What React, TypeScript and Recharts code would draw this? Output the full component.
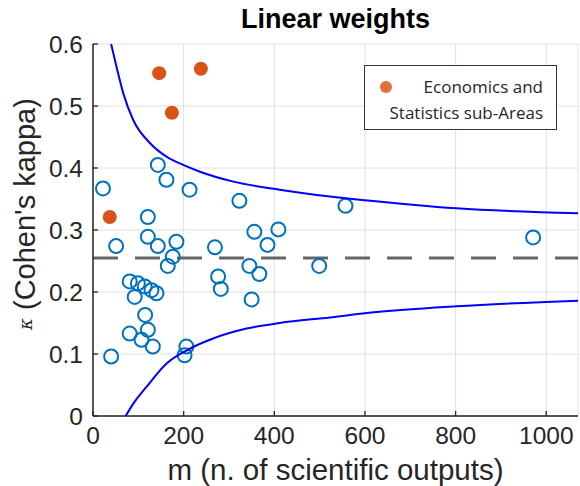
import {
  ScatterChart,
  Scatter,
  XAxis,
  YAxis,
  CartesianGrid,
  ReferenceLine,
} from "recharts";

// field sub-areas (open blue circles)
const fieldM = [22, 51, 40, 143, 162, 213, 121, 121, 143, 184, 176, 165, 81, 99, 114, 129, 140, 92, 115, 81, 121, 107, 132, 206, 202, 323, 557, 356, 409, 385, 269, 345, 367, 276, 282, 350, 499, 971];
const fieldKappa = [0.367, 0.274, 0.096, 0.405, 0.381, 0.365, 0.321, 0.289, 0.274, 0.281, 0.257, 0.242, 0.217, 0.214, 0.209, 0.203, 0.198, 0.192, 0.163, 0.133, 0.139, 0.123, 0.112, 0.112, 0.098, 0.347, 0.339, 0.297, 0.301, 0.276, 0.272, 0.242, 0.229, 0.225, 0.205, 0.188, 0.242, 0.288];

// Economics and Statistics sub-areas (filled orange)
const econM = [37, 146, 238, 174];
const econKappa = [0.321, 0.553, 0.56, 0.489];

// confidence bounds
const upperM = [40, 52, 67, 89, 126, 163, 199, 236, 310, 412, 523, 600, 802, 1070];
const upperKappa = [0.6, 0.563, 0.52, 0.477, 0.44, 0.418, 0.405, 0.394, 0.378, 0.365, 0.354, 0.348, 0.335, 0.327];
const lowerM = [72, 89, 118, 163, 207, 265, 339, 412, 523, 604, 802, 1070];
const lowerKappa = [0, 0.02, 0.047, 0.085, 0.106, 0.125, 0.141, 0.15, 0.159, 0.166, 0.177, 0.186];

const meanKappa = 0.255;

const xTicks = [0, 200, 400, 600, 800, 1000];
const yTicks = [0, 0.1, 0.2, 0.3, 0.4, 0.5, 0.6];

const zip = (ms: number[], ks: number[]) => ms.map((m, i) => ({ m, k: ks[i] }));
const fieldData = zip(fieldM, fieldKappa);
const econData = zip(econM, econKappa);
const upperData = zip(upperM, upperKappa);
const lowerData = zip(lowerM, lowerKappa);

const AXIS = "#262626";
const FONT = "'Liberation Sans', Arial, sans-serif";
const TICK_FS = 24.5;
const TICK_LEN = 5;

function BottomTick({ x, y, payload }: any) {
  const ay = y - 8;
  return (
    <g>
      <line x1={x} x2={x} y1={ay} y2={ay - TICK_LEN} stroke={AXIS} strokeWidth={1.3} />
      <text x={x} y={y} dy="0.8em" textAnchor="middle" fill={AXIS} fontSize={TICK_FS} fontFamily={FONT}>
        {payload.value}
      </text>
    </g>
  );
}

function LeftTick({ x, y, payload }: any) {
  const ax = x + 10;
  return (
    <g>
      <line x1={ax} x2={ax + TICK_LEN} y1={y} y2={y} stroke={AXIS} strokeWidth={1.3} />
      <text x={x} y={y} dy="0.36em" textAnchor="end" fill={AXIS} fontSize={TICK_FS} fontFamily={FONT}>
        {payload.value}
      </text>
    </g>
  );
}

function TopTick({ x, y }: any) {
  return <line x1={x} x2={x} y1={y} y2={y + TICK_LEN} stroke={AXIS} strokeWidth={1.3} />;
}

function RightTick({ x, y }: any) {
  return <line x1={x} x2={x - TICK_LEN} y1={y} y2={y} stroke={AXIS} strokeWidth={1.3} />;
}

function YLabel({ viewBox }: any) {
  const cx = 25;
  const cy = viewBox.y + viewBox.height / 2 - 16;
  return (
    <text
      x={cx}
      y={cy}
      transform={`rotate(-90 ${cx} ${cy})`}
      textAnchor="middle"
      dominantBaseline="central"
      fill={AXIS}
      fontSize={29}
      fontFamily={FONT}
    >
      <tspan fontFamily="'DejaVu Serif', serif" fontStyle="italic" fontSize={18}>κ</tspan>
      <tspan> (Cohen's kappa)</tspan>
    </text>
  );
}

function OpenCircle({ cx, cy }: any) {
  return <circle cx={cx} cy={cy} r={7} fill="none" stroke="#0072BD" strokeWidth={2} />;
}

function FilledDot({ cx, cy }: any) {
  return <circle cx={cx} cy={cy} r={7} fill="#D95319" />;
}

function NoMark() {
  return <g />;
}

function LegendBox() {
  return (
    <div
      style={{
        position: "absolute",
        left: 364,
        top: 65,
        width: 193,
        height: 65,
        border: "1.5px solid #333",
        background: "#fff",
        fontFamily: "'Open Sans', sans-serif",
        fontSize: 17,
        color: AXIS,
        boxSizing: "border-box",
      }}
    >
      <span
        style={{
          position: "absolute",
          left: 15,
          top: 15,
          width: 12,
          height: 12,
          borderRadius: 6,
          background: "#E2703E",
        }}
      />
      <div style={{ position: "absolute", right: 13, top: 8, textAlign: "right", lineHeight: "26px", whiteSpace: "nowrap" }}>
        Economics and
        <br />
        Statistics sub-Areas
      </div>
    </div>
  );
}

export default function App() {
  return (
    <div style={{ position: "absolute", left: 0, top: 0, width: 580, height: 486, background: "#fff" }}>
      <div
        style={{
          position: "absolute",
          left: 93,
          width: 485,
          top: 4,
          textAlign: "center",
          fontFamily: FONT,
          fontWeight: "bold",
          fontSize: 27,
          color: "#000",
        }}
      >
        Linear weights
      </div>
      <ScatterChart width={580} height={486} margin={{ top: 44, right: 2, bottom: 0, left: 0 }}>
        <CartesianGrid stroke="#e0e0e0" strokeWidth={1} />
        <XAxis
          xAxisId={0}
          type="number"
          dataKey="m"
          domain={[0, 1070]}
          ticks={xTicks}
          allowDataOverflow
          height={70}
          tickSize={0}
          tickMargin={8}
          tickLine={false}
          axisLine={{ stroke: AXIS, strokeWidth: 1.5 }}
          tick={<BottomTick />}
          interval={0}
          label={{
            value: "m (n. of scientific outputs)",
            position: "insideBottom",
            offset: 6,
            fill: AXIS,
            fontSize: 29.5,
            fontFamily: FONT,
          }}
        />
        <XAxis
          xAxisId="top"
          orientation="top"
          type="number"
          domain={[0, 1070]}
          ticks={xTicks}
          allowDataOverflow
          height={0}
          tickSize={0}
          tickMargin={0}
          tickLine={false}
          axisLine={{ stroke: AXIS, strokeWidth: 1.5 }}
          tick={<TopTick />}
          interval={0}
        />
        <YAxis
          yAxisId={0}
          type="number"
          dataKey="k"
          domain={[0, 0.6]}
          ticks={yTicks}
          allowDataOverflow
          width={93}
          tickSize={0}
          tickMargin={10}
          tickLine={false}
          axisLine={{ stroke: AXIS, strokeWidth: 1.5 }}
          tick={<LeftTick />}
          interval={0}
          label={<YLabel />}
        />
        <YAxis
          yAxisId="right"
          orientation="right"
          type="number"
          domain={[0, 0.6]}
          ticks={yTicks}
          allowDataOverflow
          width={0}
          tickSize={0}
          tickMargin={0}
          tickLine={false}
          axisLine={{ stroke: AXIS, strokeWidth: 1.5 }}
          tick={<RightTick />}
          interval={0}
        />
        <Scatter data={fieldData} shape={<OpenCircle />} isAnimationActive={false} />
        <Scatter data={econData} shape={<FilledDot />} isAnimationActive={false} />
        <Scatter
          data={upperData}
          shape={<NoMark />}
          line={{ stroke: "#0000FF", strokeWidth: 2 }}
          lineJointType="monotoneX"
          isAnimationActive={false}
        />
        <Scatter
          data={lowerData}
          shape={<NoMark />}
          line={{ stroke: "#0000FF", strokeWidth: 2 }}
          lineJointType="monotoneX"
          isAnimationActive={false}
        />
        <ReferenceLine y={meanKappa} stroke="#666" strokeWidth={3} strokeDasharray="25 17" />
      </ScatterChart>
      <LegendBox />
    </div>
  );
}
